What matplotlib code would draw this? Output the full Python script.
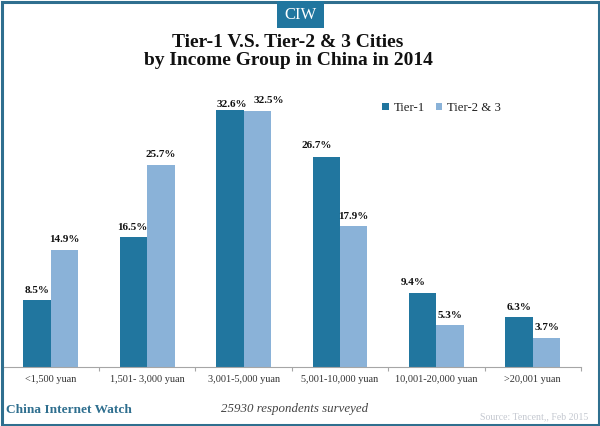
import numpy as np
import matplotlib
matplotlib.use("Agg")
import matplotlib.pyplot as plt
from matplotlib.patches import Rectangle

# === данные ===
categories = ["<1,500 yuan", "1,501- 3,000 yuan", "3,001-5,000 yuan",
              "5,001-10,000 yuan", "10,001-20,000 yuan", ">20,001 yuan"]
tier1 = [8.5, 16.5, 32.6, 26.7, 9.4, 6.3]
tier23 = [14.9, 25.7, 32.5, 17.9, 5.3, 3.7]

# сдвиги подписей относительно вершины столбца, в пикселях
tier1_dx = [-0.5, -1, 2, -9.5, -9.5, 0]
tier1_dy = [10, 10, 6, 11, 10, 10]
tier23_dx = [0, 0, 11.5, 0, 0, 0]
tier23_dy = [10, 10, 11, 10, 10, 10.5]

DARK = "#21769f"
LIGHT = "#8ab2d8"
FRAME = "#2f6f8f"
W, H = 600, 426

plt.rcParams["font.family"] = ["Liberation Serif", "DejaVu Serif"]

fig = plt.figure(figsize=(W / 100, H / 100), dpi=100)

# рамка и плашка CIW
fig.add_artist(Rectangle((1.5 / W, 1.5 / H), (W - 3) / W, (H - 3) / H, transform=fig.transFigure,
                         fill=False, edgecolor=FRAME, linewidth=2.2))
fig.add_artist(Rectangle((277 / W, 1 - 28 / H), 47 / W, 27 / H, transform=fig.transFigure,
                         facecolor=DARK, edgecolor="none"))
fig.text(300.5 / W, 1 - 15 / H, "CIW", color="white", fontsize=12, ha="center", va="center")

fig.text(288 / W, 1 - 46.7 / H, "Tier-1 V.S. Tier-2 & 3 Cities", fontsize=14, fontweight="bold",
         color="#111111", ha="center", va="baseline")
fig.text(288 / W, 1 - 65 / H, "by Income Group in China in 2014", fontsize=14, fontweight="bold",
         color="#111111", ha="center", va="baseline")

# === столбцы ===
ax = fig.add_axes([2.6 / W, 1 - 367 / H, 578.4 / W, 315 / H])
x = np.arange(len(categories))
width = 0.285
ax.bar(x - width / 2, tier1, width, color=DARK, label="Tier-1")
ax.bar(x + width / 2, tier23, width, color=LIGHT, label="Tier-2 & 3")

ax.set_xlim(-0.5, 5.5)
ax.set_ylim(0, 40)
ax.set_yticks([])
for s in ["top", "left", "right"]:
    ax.spines[s].set_visible(False)
ax.spines["bottom"].set_color("#a6a6a6")
ax.set_xticks(np.arange(-0.5, 6, 1))
ax.set_xticklabels([])
ax.tick_params(axis="x", length=3, color="#a6a6a6", direction="out")

for i, c in enumerate(categories):
    ax.annotate(c, (i, 0), xytext=(0, -13), textcoords="offset pixels", ha="center", va="center",
                fontsize=7.4, color="#333333", annotation_clip=False)

for i, (a, b) in enumerate(zip(tier1, tier23)):
    ax.annotate(f"{a}%", (i - width / 2, a), xytext=(tier1_dx[i], tier1_dy[i]), textcoords="offset pixels",
                ha="center", va="center", fontsize=8, fontweight="bold", color="#111111")
    ax.annotate(f"{b}%", (i + width / 2, b), xytext=(tier23_dx[i], tier23_dy[i]), textcoords="offset pixels",
                ha="center", va="center", fontsize=8, fontweight="bold", color="#111111")

ax.legend(loc="upper left", bbox_to_anchor=(373.5 / 578.4, (367 - 96) / 315), ncol=2, frameon=False,
          fontsize=9.2, handlelength=0.5, handleheight=0.5, handletextpad=0.35, columnspacing=0.9,
          borderpad=0, labelcolor="#222222")

# подписи внизу
fig.text(6 / W, 1 - 410 / H, "China Internet Watch", fontsize=9.6, fontweight="bold",
         color="#2f6f8f", ha="left", va="center")
fig.text(295 / W, 1 - 409 / H, "25930 respondents surveyed", fontsize=9.25, style="italic",
         color="#444444", ha="center", va="center")
fig.text(588 / W, 1 - 417 / H, "Source: Tencent,, Feb 2015", fontsize=7.1,
         color="#c4c8d0", ha="right", va="center")

fig.savefig("out.png", dpi=100)
